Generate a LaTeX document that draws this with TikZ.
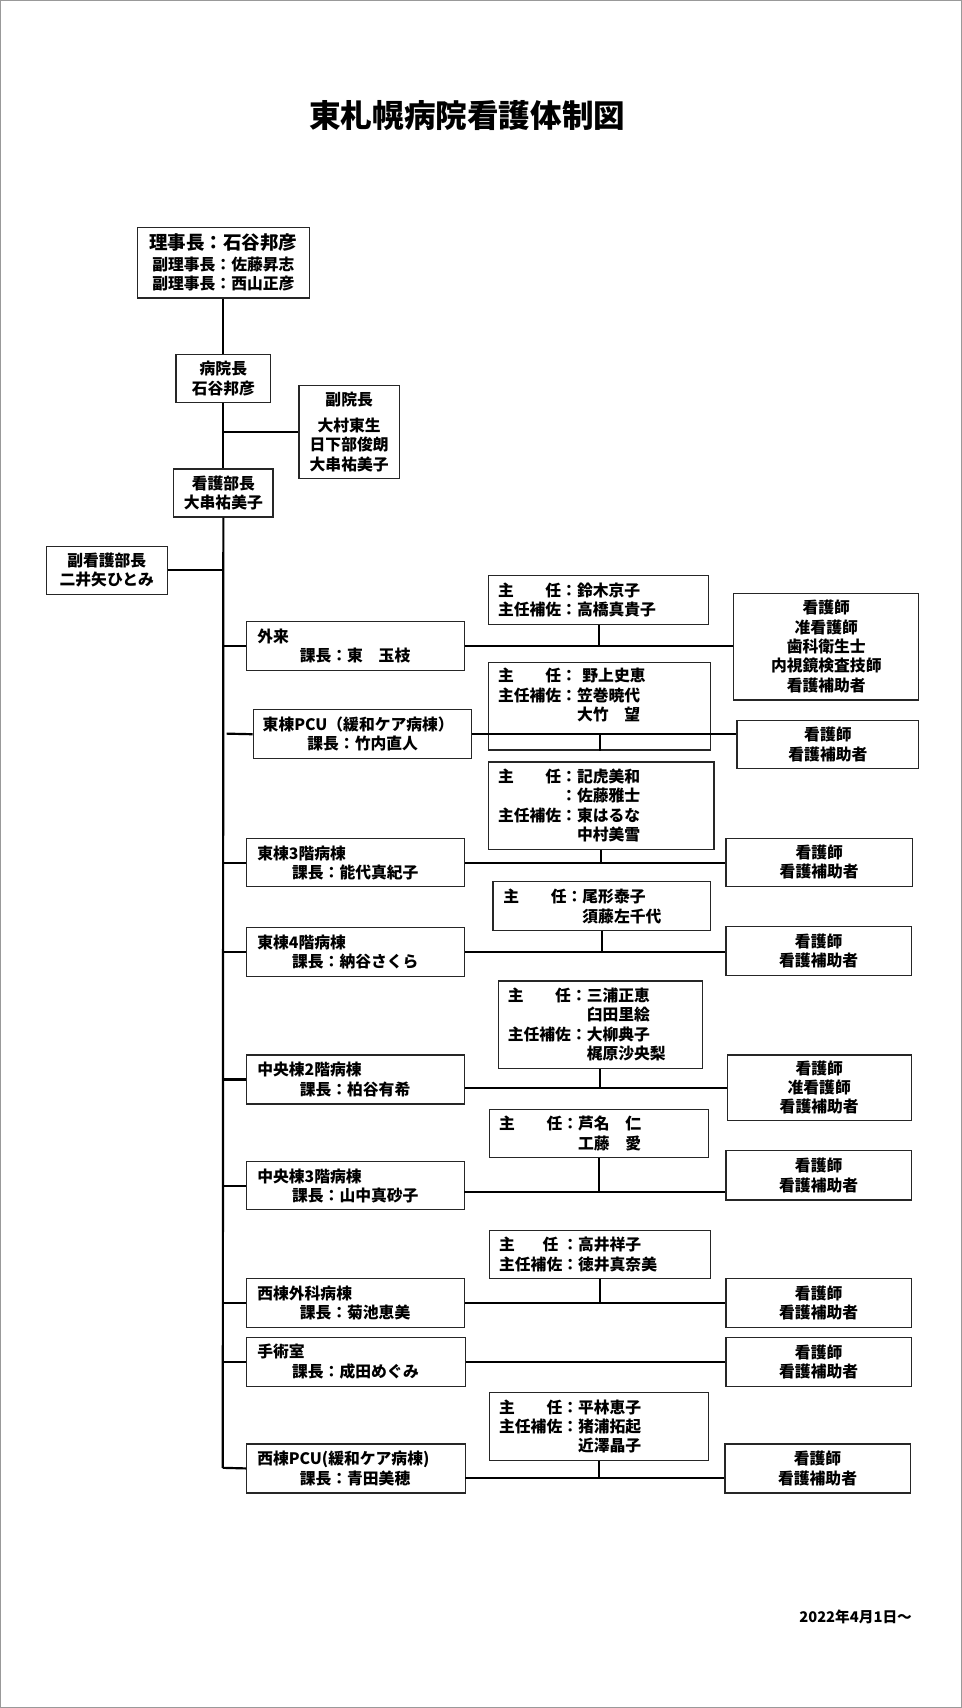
\documentclass[tikz,border=0pt]{standalone}
\usepackage{fontspec}
\setmainfont{Noto Sans CJK JP}
\begin{document}
\begin{tikzpicture}[x=1pt,y=-1pt,
  box/.style={draw=black!85, line width=1.1pt, inner sep=0pt, anchor=north west, fill=white},
  conn/.style={line width=2pt, black},
  txt/.style={inner sep=0pt, font=\bfseries\fontsize{14.5}{17.7}\selectfont},
  ltxt/.style={txt, align=left, anchor=west},
  ctxt/.style={txt, align=center}]
\useasboundingbox (0,0) rectangle (883,1568);
\draw[black!40, line width=1pt] (0.5,0.5) rectangle (882.5,1567.5);

\node[txt, font=\bfseries\fontsize{29}{34}\selectfont] (title) at (429,106) {東札幌病院看護体制図};

% top hierarchy
\node[box, minimum width=158pt, minimum height=65pt] (rj) at (125.5,208) {};
\node[ctxt] (rjt) at (rj.center) {{\fontsize{17}{20}\selectfont 理事長：石谷邦彦}\\[1pt]副理事長：佐藤昇志\\副理事長：西山正彦};
\node[box, minimum width=87pt, minimum height=44pt] (bi) at (161,325) {};
\node[ctxt] (bit) at (bi.center) {病院長\\石谷邦彦};
\node[box, minimum width=92pt, minimum height=86pt] (fi) at (274,353) {};
\node[ctxt] (fit) at (fi.center) {副院長\\[6pt]大村東生\\日下部俊朗\\大串祐美子};
\node[box, minimum width=91pt, minimum height=44pt] (kb) at (159,430) {};
\node[ctxt] (kbt) at (kb.center) {看護部長\\大串祐美子};
\node[box, minimum width=111pt, minimum height=44pt] (fk) at (42,501) {};
\node[ctxt] (fkt) at (fk.center) {副看護部長\\二井矢ひとみ};

% departments
\node[box, minimum width=200pt, minimum height=45pt] (d1) at (226,570) {};
\node[ltxt] (d1t) at ([xshift=10pt]d1.west) {外来\\\hspace*{39pt}課長：東　玉枝};
\node[box, minimum width=200pt, minimum height=45pt] (d2) at (232,651) {};
\node[ltxt] (d2t) at ([xshift=9pt]d2.west) {東棟PCU（緩和ケア病棟）\\\hspace*{41pt}課長：竹内直人};
\node[box, minimum width=200pt, minimum height=44pt] (d3) at (226,769.5) {};
\node[ltxt] (d3t) at ([xshift=10pt]d3.west) {東棟3階病棟\\\hspace*{32pt}課長：能代真紀子};
\node[box, minimum width=200pt, minimum height=45pt] (d4) at (226,851) {};
\node[ltxt] (d4t) at ([xshift=10pt]d4.west) {東棟4階病棟\\\hspace*{32pt}課長：納谷さくら};
\node[box, minimum width=200pt, minimum height=45pt] (d5) at (226,968) {};
\node[ltxt] (d5t) at ([xshift=10pt]d5.west) {中央棟2階病棟\\\hspace*{39pt}課長：柏谷有希};
\node[box, minimum width=200pt, minimum height=44pt] (d6) at (226,1066) {};
\node[ltxt] (d6t) at ([xshift=10pt]d6.west) {中央棟3階病棟\\\hspace*{32pt}課長：山中真砂子};
\node[box, minimum width=200pt, minimum height=45pt] (d7) at (226,1173) {};
\node[ltxt] (d7t) at ([xshift=10pt]d7.west) {西棟外科病棟\\\hspace*{39pt}課長：菊池恵美};
\node[box, minimum width=201pt, minimum height=45pt] (d8) at (226,1227) {};
\node[ltxt] (d8t) at ([xshift=10pt]d8.west) {手術室\\\hspace*{32pt}課長：成田めぐみ};
\node[box, minimum width=201pt, minimum height=45pt] (d9) at (226,1325) {};
\node[ltxt] (d9t) at ([xshift=10pt]d9.west) {西棟PCU(緩和ケア病棟)\\\hspace*{39pt}課長：青田美穂};

% chief boxes
\node[box, minimum width=202pt, minimum height=45pt] (s1) at (448,528) {};
\node[ltxt] (s1t) at ([xshift=9pt]s1.west) {主　　任：鈴木京子\\主任補佐：高橋真貴子};
\node[box, minimum width=204pt, minimum height=80pt] (s2) at (448,608) {};
\node[ltxt] (s2t) at (457,638) {主　　任：\hspace{5pt}野上史恵\\主任補佐：笠巻暁代\\　　　　　大竹　望};
\node[box, minimum width=207pt, minimum height=80pt] (s3) at (448,699) {};
\node[ltxt] (s3t) at ([xshift=9pt]s3.west) {主　　任：記虎美和\\　　　　：佐藤雅士\\主任補佐：東はるな\\　　　　　中村美雪};
\node[box, minimum width=200pt, minimum height=45pt] (s4) at (452,809) {};
\node[ltxt] (s4t) at ([xshift=10pt]s4.west) {主　　任：尾形泰子\\　　　　　須藤左千代};
\node[box, minimum width=187pt, minimum height=80pt] (s5) at (457,900) {};
\node[ltxt] (s5t) at ([xshift=9pt]s5.west) {主　　任：三浦正恵\\　　　　　臼田里絵\\主任補佐：大柳典子\\　　　　　梶原沙央梨};
\node[box, minimum width=201pt, minimum height=44pt] (s6) at (449,1018) {};
\node[ltxt] (s6t) at ([xshift=9pt]s6.west) {主　　任：芦名　仁\\　　　　　工藤　愛};
\node[box, minimum width=203pt, minimum height=44pt] (s7) at (449,1129) {};
\node[ltxt] (s7t) at ([xshift=9pt]s7.west) {主　\hspace{11pt}任\hspace{3.5pt}：高井祥子\\主任補佐：徳井真奈美};
\node[box, minimum width=201pt, minimum height=62pt] (s8) at (449,1278) {};
\node[ltxt] (s8t) at ([xshift=9pt]s8.west) {主　　任：平林恵子\\主任補佐：猪浦拓起\\　　　　　近澤晶子};

% staff boxes
\node[box, minimum width=170pt, minimum height=98pt] (r1) at (673,544) {};
\node[ctxt] (r1t) at (r1.center) {看護師\\准看護師\\歯科衛生士\\内視鏡検査技師\\看護補助者};
\node[box, minimum width=167pt, minimum height=44pt] (r2) at (676,661) {};
\node[ctxt] (r2t) at (r2.center) {看護師\\看護補助者};
\node[box, minimum width=171pt, minimum height=44pt] (r3) at (666,769) {};
\node[ctxt] (r3t) at (r3.center) {看護師\\看護補助者};
\node[box, minimum width=170pt, minimum height=45pt] (r4) at (666,850) {};
\node[ctxt] (r4t) at (r4.center) {看護師\\看護補助者};
\node[box, minimum width=169pt, minimum height=60pt] (r5) at (667,968) {};
\node[ctxt] (r5t) at (r5.center) {看護師\\准看護師\\看護補助者};
\node[box, minimum width=170pt, minimum height=45pt] (r6) at (666,1056) {};
\node[ctxt] (r6t) at (r6.center) {看護師\\看護補助者};
\node[box, minimum width=170pt, minimum height=45pt] (r7) at (666,1173) {};
\node[ctxt] (r7t) at (r7.center) {看護師\\看護補助者};
\node[box, minimum width=170pt, minimum height=45pt] (r8) at (666,1227) {};
\node[ctxt] (r8t) at (r8.center) {看護師\\看護補助者};
\node[box, minimum width=170pt, minimum height=45pt] (r9) at (665,1325) {};
\node[ctxt] (r9t) at (r9.center) {看護師\\看護補助者};

\node[txt, font=\bfseries\fontsize{13.5}{16}\selectfont] (date) at (785.5,1484) {2022年4月1日～};

% connectors
\coordinate (mend) at (204.5,1347.5);
\coordinate (d2l) at (208,673.5);
\coordinate (c6) at (426,1094);
\coordinate (c9) at (427,1357);
\draw[conn] (rj.south) -- (bi.north);
\draw[conn] (bi.south) -- (kb.north);
\draw[conn] (fi.west -| bi.south) -- (fi.west);
\draw[conn] (kb.south) -- (mend);
\draw[conn] (fk.east) -- (fk.east -| kb.south);
\foreach \d in {d1,d3,d4,d5,d6,d7,d8}{\draw[conn] (\d.west -| kb.south) -- (\d.west);}
\draw[conn] (mend) -- (d9.west);
\draw[conn] (d2l) -- (d2.west);

\draw[conn] (d1.east) -- (d1.east -| r1.west);
\draw[conn] (s1.south) -- (s1.south |- d1.east);
\draw[conn] (d2.east) -- (d2.east -| r2.west);
\draw[conn] (s2.south) -- (s2.south |- d2.east);
\draw[conn] (d3.east) -- (d3.east -| r3.west);
\draw[conn] (s3.south) -- (s3.south |- d3.east);
\draw[conn] (d4.east) -- (d4.east -| r4.west);
\draw[conn] (s4.south) -- (s4.south |- d4.east);
\draw[conn] (d5.east |- r5.west) -- (r5.west);
\draw[conn] (s5.south) -- (s5.south |- r5.west);
\draw[conn] (c6) -- (c6 -| r6.west);
\draw[conn] (s6.south) -- (s6.south |- c6);
\draw[conn] (d7.east) -- (d7.east -| r7.west);
\draw[conn] (s7.south) -- (s7.south |- d7.east);
\draw[conn] (d8.east) -- (d8.east -| r8.west);
\draw[conn] (c9) -- (c9 -| r9.west);
\draw[conn] (s8.south) -- (s8.south |- c9);
\end{tikzpicture}
\end{document}
